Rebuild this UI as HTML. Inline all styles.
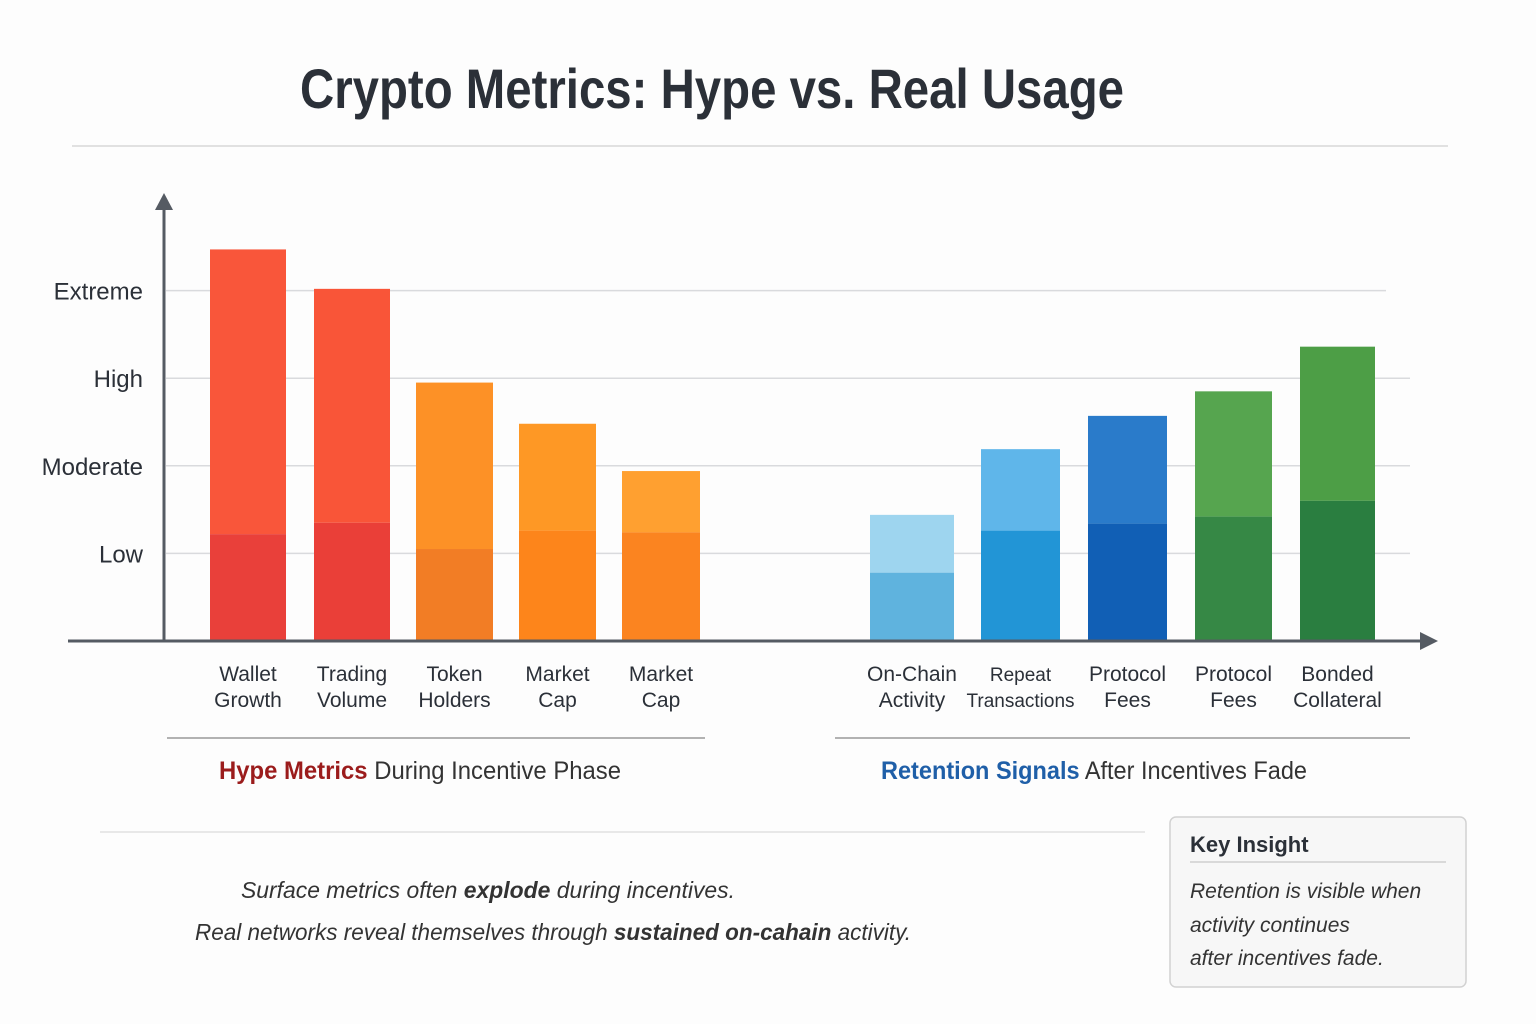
<!DOCTYPE html>
<html><head><meta charset="utf-8"><style>
html,body{margin:0;padding:0;background:#fff;}
svg{display:block;font-family:"Liberation Sans",sans-serif;}
</style></head><body>
<svg id="chart" width="1536" height="1024" viewBox="0 0 1536 1024" xmlns="http://www.w3.org/2000/svg">
<rect width="1536" height="1024" fill="#fdfdfd"/>
<text x="712" y="108" text-anchor="middle" font-family="'Liberation Sans Narrow','Liberation Sans',sans-serif" font-weight="bold" font-size="56" fill="#2b3038" textLength="824" lengthAdjust="spacingAndGlyphs">Crypto Metrics: Hype vs. Real Usage</text>
<line x1="72" y1="146" x2="1448" y2="146" stroke="#d8d8d8" stroke-width="1.5"/>
<g id="grid"></g>
<g id="bars"></g>
<g id="ylabels"></g>
<g id="xlabels"></g>
<line x1="164" y1="641" x2="164" y2="200" stroke="#555b63" stroke-width="3"/>
<polygon points="155,210 164,193 173,210" fill="#555b63"/>
<line x1="68" y1="641" x2="1425" y2="641" stroke="#555b63" stroke-width="3"/>
<polygon points="1420,632 1438,641 1420,650" fill="#555b63"/>
<line x1="167" y1="738" x2="705" y2="738" stroke="#9a9a9a" stroke-width="1.5"/>
<line x1="835" y1="738" x2="1410" y2="738" stroke="#9a9a9a" stroke-width="1.5"/>
<text x="420" y="779" text-anchor="middle" font-size="25" fill="#333" textLength="402" lengthAdjust="spacingAndGlyphs"><tspan fill="#9b1c1c" font-weight="bold">Hype Metrics</tspan> During Incentive Phase</text>
<text x="1094" y="779" text-anchor="middle" font-size="25" fill="#333" textLength="426" lengthAdjust="spacingAndGlyphs"><tspan fill="#1f5fa8" font-weight="bold">Retention Signals</tspan> After Incentives Fade</text>
<line x1="100" y1="832" x2="1145" y2="832" stroke="#e2e2e2" stroke-width="1.5"/>
<text x="488" y="898" text-anchor="middle" font-size="23" font-style="italic" fill="#333" textLength="494" lengthAdjust="spacingAndGlyphs">Surface metrics often <tspan font-weight="bold">explode</tspan> during incentives.</text>
<text x="553" y="940" text-anchor="middle" font-size="23" font-style="italic" fill="#333" textLength="716" lengthAdjust="spacingAndGlyphs">Real networks reveal themselves through <tspan font-weight="bold">sustained on-cahain</tspan> activity.</text>
<g>
<rect x="1170" y="817" width="296" height="170" rx="6" fill="#f7f7f7" stroke="#d2d2d2" stroke-width="1.5"/>
<text x="1190" y="852" font-size="22" font-weight="bold" fill="#2b3038">Key Insight</text>
<line x1="1190" y1="862" x2="1446" y2="862" stroke="#cfcfcf" stroke-width="1.5"/>
<text font-size="21" font-style="italic" fill="#333"><tspan x="1190" y="898">Retention is visible when</tspan><tspan x="1190" y="932">activity continues</tspan><tspan x="1190" y="965">after incentives fade.</tspan></text>
</g>
</svg>
<script>
const categories = ["Wallet Growth","Trading Volume","Token Holders","Market Cap","Market Cap","On-Chain Activity","Repeat Transactions","Protocol Fees","Protocol Fees","Bonded Collateral"];
const totalValues = [4.47, 4.02, 2.95, 2.48, 1.94, 1.44, 2.19, 2.57, 2.85, 3.36];
const baseValues = [1.22, 1.35, 1.05, 1.26, 1.24, 0.78, 1.26, 1.34, 1.42, 1.60];
const tickLabels = ["Low","Moderate","High","Extreme"];
const tickValues = [1, 2, 3, 4];

const NS = "http://www.w3.org/2000/svg";
const y0 = 641, unit = 87.6;
function yScale(v){ return y0 - v*unit; }
const barX = [210,314,416,519,622,870,981,1088,1195,1300];
const barW = [76,76,77,77,78,84,79,79,77,75];
const topColors = ["#f9563a","#f95538","#fd9126","#fe9825","#ffa030","#9ed5ef","#5fb6ea","#2a7bca","#56a54f","#4d9e46"];
const botColors = ["#e9403a","#ea3f38","#f27d25","#fd851b","#fb8420","#5fb3de","#2295d6","#115fb5","#368845","#2a7e40"];
function mk(tag, attrs, parent){ const e=document.createElementNS(NS,tag); for(const k in attrs) e.setAttribute(k,attrs[k]); parent.appendChild(e); return e; }

const grid=document.getElementById('grid'), ylab=document.getElementById('ylabels');
tickValues.forEach((v,i)=>{
  const y=yScale(v);
  const l=mk('line',{x1:166,y1:y,x2:(v===4?1386:1410),y2:y,stroke:'#d9dadd','stroke-width':1.5},grid);
  
  
  const t=mk('text',{x:143,y:y+9,'text-anchor':'end','font-size':24,fill:'#2b3038'},ylab);
  
  
  t.textContent=tickLabels[i];
});

const bars=document.getElementById('bars'), xlab=document.getElementById('xlabels');
categories.forEach((c,i)=>{
  const x=barX[i], w=barW[i];
  const r1=mk('rect',{x:x,y:yScale(totalValues[i]),width:w,height:(totalValues[i]-baseValues[i])*unit,fill:topColors[i]},bars);
  
  
  const r2=mk('rect',{x:x,y:yScale(baseValues[i]),width:w,height:baseValues[i]*unit,fill:botColors[i]},bars);
  
  
  const parts=c.split(' ');
  const line1=parts[0], line2=parts.slice(1).join(' ');
  const cx=x+w/2;
  const t=mk('text',{'text-anchor':'middle','font-size':(line2.length>10?19:21),fill:'#2b3038'},xlab);
  
  
  mk('tspan',{x:cx,y:681},t).textContent=line1;
  mk('tspan',{x:cx,y:707},t).textContent=line2;
});
</script>
</body></html>
